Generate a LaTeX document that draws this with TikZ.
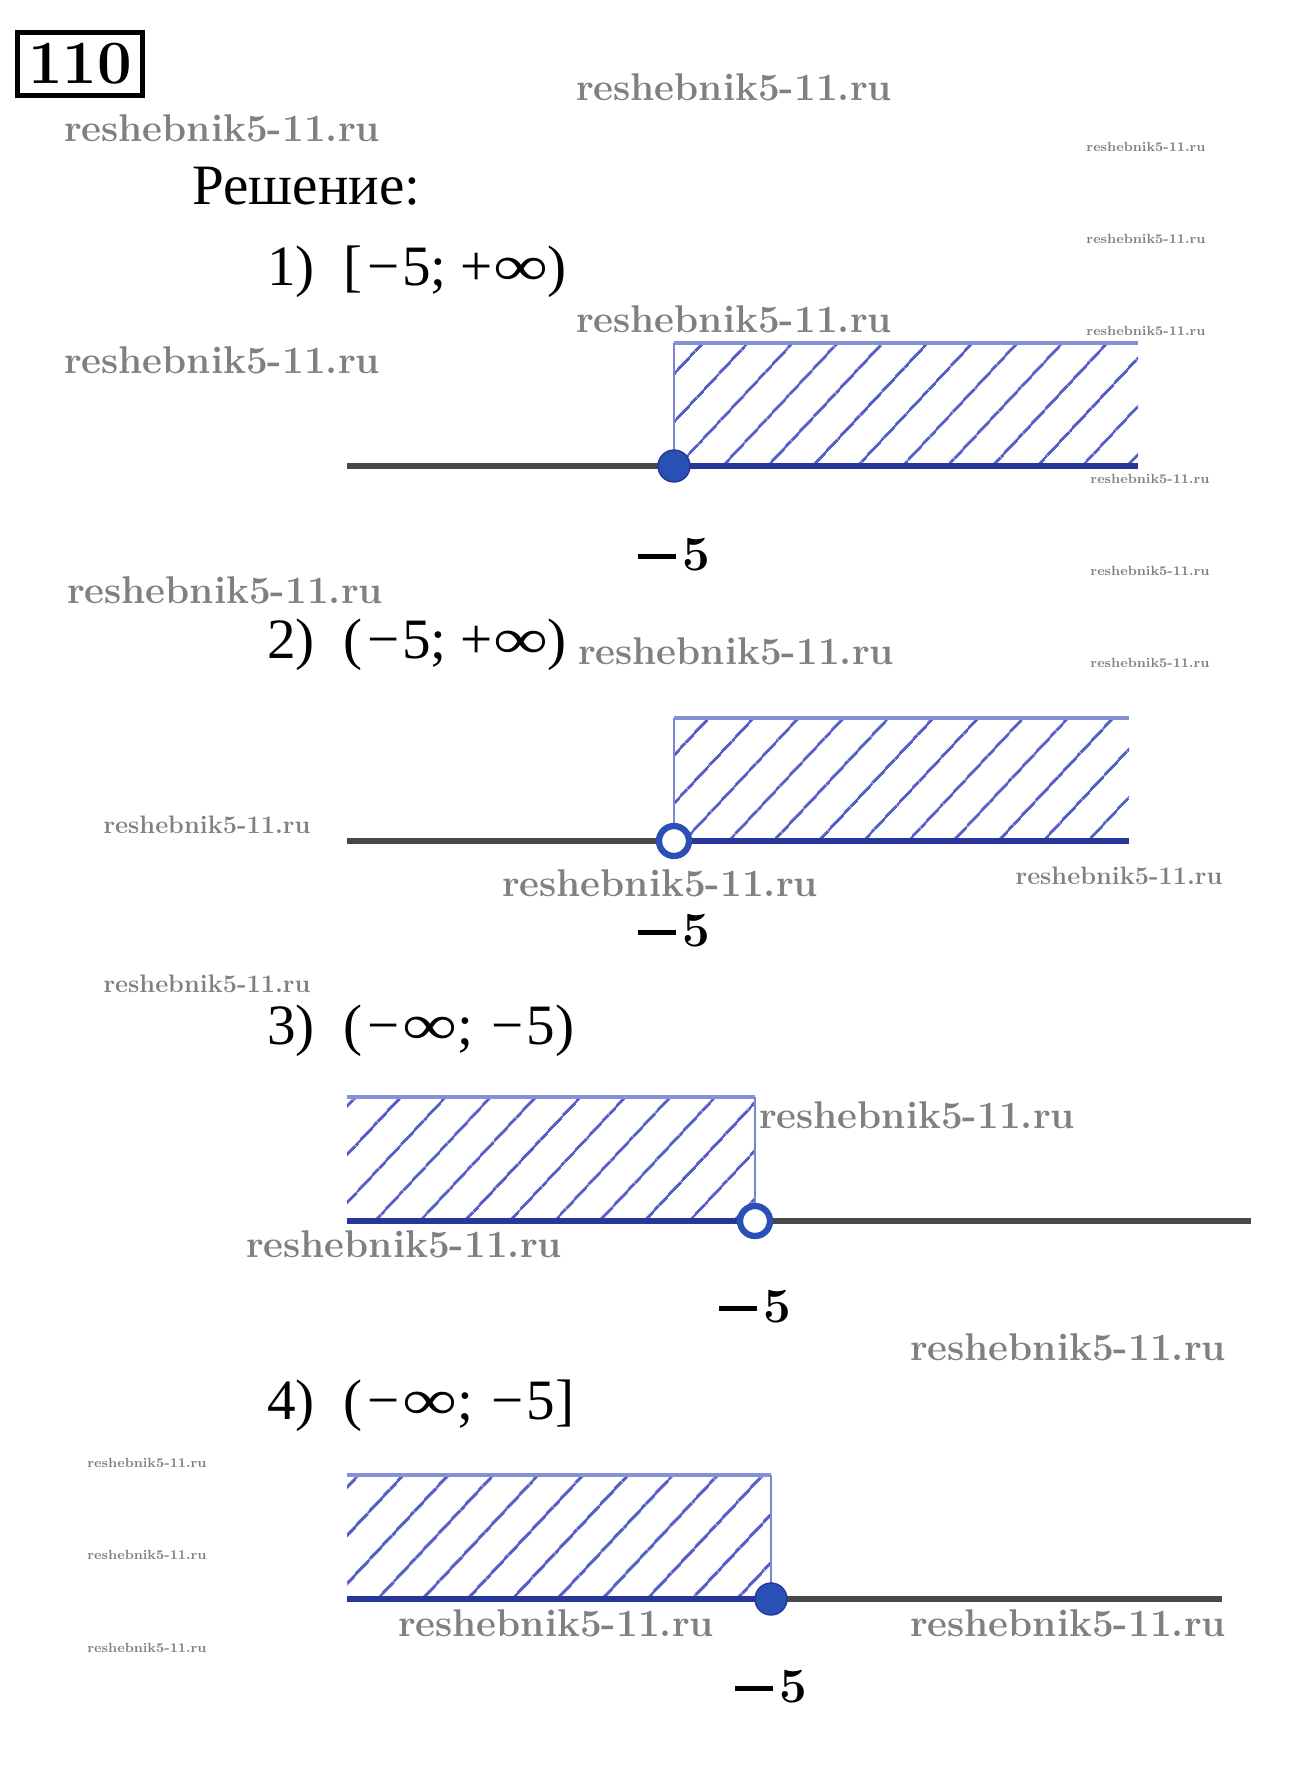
\documentclass[tikz,border=0pt]{standalone}
\usepackage{fontspec}
\usepackage{graphicx}
\newfontfamily\rmtext{Liberation Serif}
\usetikzlibrary{patterns.meta}
\definecolor{axisgray}{HTML}{484848}
\definecolor{setblue}{HTML}{28359A}
\definecolor{hatchblue}{HTML}{5560C6}
\definecolor{edgeblue}{HTML}{8690D6}
\definecolor{dotblue}{HTML}{2A50B6}
\definecolor{wmgray}{HTML}{808080}
% bold minus five under each point
\newcommand{\mfive}{\rule[0.24em]{0.78em}{0.1em}\kern0.12em 5}
% wide infinity and spaced minus for the interval headings
\newcommand{\infy}{\scalebox{1.35}[1]{∞}}
\newcommand{\mns}{\kern0.08em−\kern0.05em}
\tikzset{
  % Task number: bold digits in a heavy frame
  taskbox/.style={draw, line width=2.6pt, minimum width=2.5cm, minimum height=1.26cm,
                  inner sep=0pt, font=\bfseries\fontsize{35}{35}\selectfont},
  % Heading lines (Cyrillic + interval notation)
  heading/.style={anchor=base west, inner sep=0pt, font=\rmtext\fontsize{32.5}{32.5}\selectfont},
  % Point label under the axis
  ptlabel/.style={inner sep=0pt, font=\bfseries\fontsize{28}{28}\selectfont},
  % Number line pieces
  axis/.style={line width=3.2pt, draw=axisgray},
  axis-set/.style={line width=3.2pt, draw=setblue},
  % Hatched region over the solution set
  hatch/.style={pattern={Lines[angle=47, distance=18.5pt, line width=1.7pt]},
                pattern color=hatchblue},
  hatch-top/.style={line width=2.3pt, draw=edgeblue},
  hatch-side/.style={line width=1pt, draw=edgeblue!80!hatchblue},
  % End points: filled = included, ring = excluded
  dotin/.style={circle, fill=dotblue, draw=setblue, line width=0.8pt,
                minimum size=0.64cm, inner sep=0pt},
  dotout/.style={circle, fill=white, draw=dotblue, line width=3.6pt,
                 minimum size=0.6cm, inner sep=0pt},
  % Watermarks
  wmbig/.style={text=wmgray, font=\bfseries\fontsize{22}{22}\selectfont, inner sep=0pt},
  wmmid/.style={text=wmgray, font=\bfseries\fontsize{14.4}{14.4}\selectfont, inner sep=0pt},
  wmsmall/.style={text=wmgray, font=\bfseries\fontsize{7.6}{7.6}\selectfont, inner sep=0pt}
}

\begin{document}
\begin{tikzpicture}[x=0.02cm, y=-0.02cm]
\useasboundingbox (0,0) rectangle (1298,1770);

% ============== HEADER ==============
\node[taskbox] (task) at (80,64) {110};
\node[heading] (sol) at (192,205) {Решение:};

% ============== 1) closed ray to the right ==============
\node[heading] (h1) at (267,286) {1)\hspace{0.5em}[\mns5;\hspace{0.25em}+\infy)};
\coordinate (l1L) at (347,466);
\coordinate (l1R) at (1138,466);
\coordinate (l1T) at (674,343);
\coordinate (l1P) at (674,466);
\fill[hatch] (l1T) rectangle (l1R);
\draw[hatch-top] (l1T) -- (1138,343);
\draw[hatch-side] (l1T) -- (l1P);
\draw[axis] (l1L) -- (l1P);
\draw[axis-set] (l1P) -- (l1R);
\node[dotin] (p1) at (l1P) {};
\node[ptlabel] (n1) at (674,555) {\mfive};

% ============== 2) open ray to the right ==============
\node[heading] (h2) at (267,658) {2)\hspace{0.5em}(\mns5;\hspace{0.25em}+\infy)};
\coordinate (l2L) at (347,841);
\coordinate (l2R) at (1129,841);
\coordinate (l2T) at (674,718);
\coordinate (l2P) at (674,841);
\fill[hatch] (l2T) rectangle (l2R);
\draw[hatch-top] (l2T) -- (1129,718);
\draw[hatch-side] (l2T) -- (l2P);
\draw[axis] (l2L) -- (l2P);
\draw[axis-set] (l2P) -- (l2R);
\node[dotout] (p2) at (l2P) {};
\node[ptlabel] (n2) at (674,931) {\mfive};

% ============== 3) open ray to the left ==============
\node[heading] (h3) at (267,1044) {3)\hspace{0.5em}(\mns\infy;\hspace{0.25em}\mns5)};
\coordinate (l3L) at (347,1221);
\coordinate (l3R) at (1251,1221);
\coordinate (l3T) at (755,1097);
\coordinate (l3P) at (755,1221);
\fill[hatch] (347,1097) rectangle (l3P);
\draw[hatch-top] (347,1097) -- (l3T);
\draw[hatch-side] (l3T) -- (l3P);
\draw[axis] (l3P) -- (l3R);
\draw[axis-set] (l3L) -- (l3P);
\node[dotout] (p3) at (l3P) {};
\node[ptlabel] (n3) at (755,1307) {\mfive};

% ============== 4) closed ray to the left ==============
\node[heading] (h4) at (267,1419) {4)\hspace{0.5em}(\mns\infy;\hspace{0.25em}\mns5]};
\coordinate (l4L) at (347,1599);
\coordinate (l4R) at (1222,1599);
\coordinate (l4T) at (771,1475);
\coordinate (l4P) at (771,1599);
\fill[hatch] (347,1475) rectangle (l4P);
\draw[hatch-top] (347,1475) -- (l4T);
\draw[hatch-side] (l4T) -- (l4P);
\draw[axis] (l4P) -- (l4R);
\draw[axis-set] (l4L) -- (l4P);
\node[dotin] (p4) at (l4P) {};
\node[ptlabel] (n4) at (771,1687) {\mfive};

% ============== Watermarks ==============
\node[wmbig] (wm1) at (734,87) {reshebnik5-11.ru};
\node[wmbig] (wm2) at (222,128) {reshebnik5-11.ru};
\node[wmbig] (wm3) at (734,319) {reshebnik5-11.ru};
\node[wmbig] (wm4) at (222,360) {reshebnik5-11.ru};
\node[wmbig] (wm5) at (225,590) {reshebnik5-11.ru};
\node[wmbig] (wm6) at (736,651) {reshebnik5-11.ru};
\node[wmbig] (wm7) at (660,883) {reshebnik5-11.ru};
\node[wmbig] (wm8) at (917,1115) {reshebnik5-11.ru};
\node[wmbig] (wm9) at (404,1244) {reshebnik5-11.ru};
\node[wmbig] (wm10) at (1068,1347) {reshebnik5-11.ru};
\node[wmbig] (wm11) at (556,1623) {reshebnik5-11.ru};
\node[wmbig] (wm12) at (1068,1623) {reshebnik5-11.ru};
\node[wmmid] (wm13) at (207,825) {reshebnik5-11.ru};
\node[wmmid] (wm14) at (1119,876) {reshebnik5-11.ru};
\node[wmmid] (wm15) at (207,984) {reshebnik5-11.ru};
\node[wmsmall] (wm16) at (1146,147) {reshebnik5-11.ru};
\node[wmsmall] (wm17) at (1146,239) {reshebnik5-11.ru};
\node[wmsmall] (wm18) at (1146,331) {reshebnik5-11.ru};
\node[wmsmall] (wm19) at (1150,479) {reshebnik5-11.ru};
\node[wmsmall] (wm20) at (1150,571) {reshebnik5-11.ru};
\node[wmsmall] (wm21) at (1150,663) {reshebnik5-11.ru};
\node[wmsmall] (wm22) at (147,1463) {reshebnik5-11.ru};
\node[wmsmall] (wm23) at (147,1555) {reshebnik5-11.ru};
\node[wmsmall] (wm24) at (147,1648) {reshebnik5-11.ru};

\end{tikzpicture}
\end{document}
